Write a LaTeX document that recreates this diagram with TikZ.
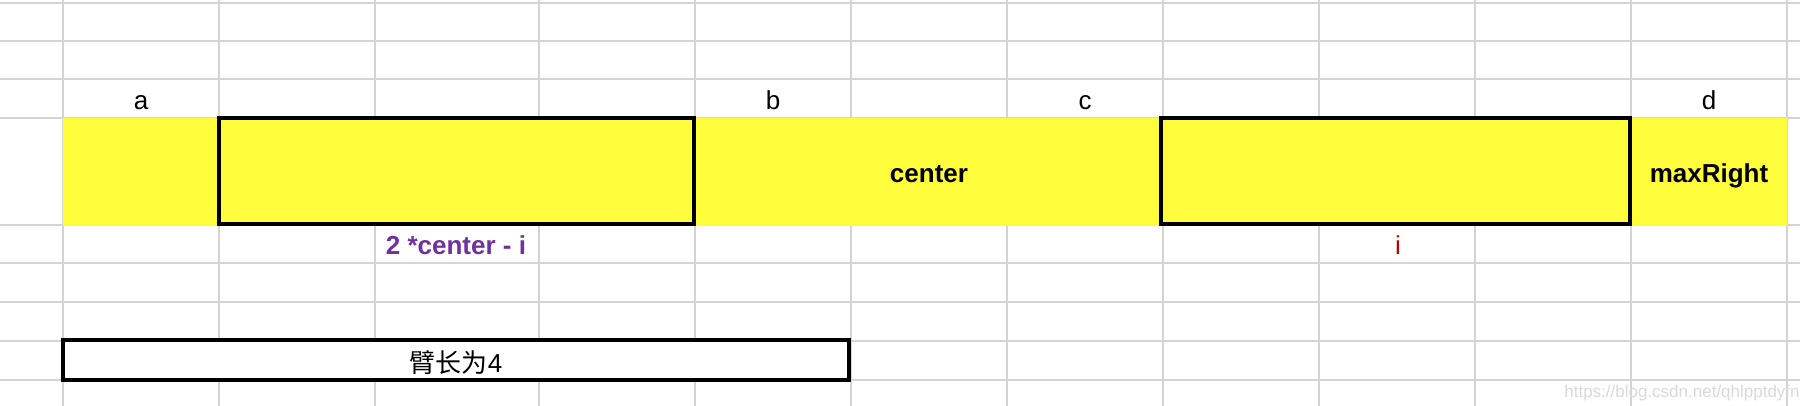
\documentclass[tikz,border=0pt]{standalone}
\usepackage{fontspec}
\setmainfont{Liberation Sans}
\newfontfamily\cjkfont{Noto Sans CJK SC}
\definecolor{gridgray}{HTML}{D4D4D4}
\definecolor{cellyellow}{HTML}{FFFC3C}
\definecolor{formulapurple}{HTML}{7030A0}
\definecolor{indexred}{HTML}{C00000}
\tikzset{
  gridline/.style={draw=gridgray, line width=1.2pt},
  cellbox/.style={draw=black, line width=2pt},
  colname/.style={anchor=base, font=\fontsize{13}{15}\selectfont},
  celltext/.style={anchor=base, font=\fontsize{13}{15}\selectfont\bfseries},
}
\begin{document}
\begin{tikzpicture}[x=0.5pt,y=-0.5pt]
    \useasboundingbox (0,0) rectangle (1800,406);
    % sheet grid
    \foreach \gx in {63,219,375,539,695,851,1007,1163,1319,1475,1631,1787}
      \draw [gridline] (\gx,0)--(\gx,406);
    \foreach \gy in {3,41,79,118,225,263,302,341,380}
      \draw [gridline] (0,\gy)--(1800,\gy);
    % yellow row and the two ranges
    \fill [cellyellow] (63,118) rectangle (1787,226);
    \draw [cellbox] (218.5,118) rectangle (694,224);
    \draw [cellbox] (1161,118) rectangle (1630,224);
    \draw [cellbox, fill=white] (62.5,340) rectangle (849,380);
    % column marks
    \node [colname] (a) at (141,110) {a};
    \node [colname] (b) at (773,110) {b};
    \node [colname] (c) at (1085,110) {c};
    \node [colname] (d) at (1709,110) {d};
    % cell texts
    \node [celltext] (center) at (929,183) {center};
    \node [celltext] (maxright) at (1709,183) {maxRight};
    \node [celltext, text=formulapurple] (mirror) at (456,255) {2 *center - i};
    \node [celltext, text=indexred, font=\fontsize{13}{15}\selectfont] (idx) at (1398,255) {i};
    \node [colname] (arm) at (456,372) {{\cjkfont 臂长为}4};
    \node [anchor=base, text=gray!30, font=\fontsize{8.5}{10}\selectfont] (mark) at (1682,398) {https://blog.csdn.net/qhlpptdyfn};
\end{tikzpicture}
\end{document}
